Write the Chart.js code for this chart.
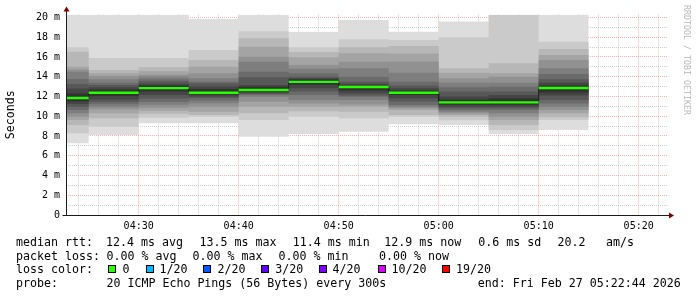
<!DOCTYPE html>
<html><head><meta charset="utf-8">
<script src="https://cdn.jsdelivr.net/npm/chart.js@4/dist/chart.umd.min.js"></script>
<style>
html,body{margin:0;padding:0;background:#fff;}
#wrap{position:relative;width:697px;height:297px;overflow:hidden;background:#fff;font-family:"DejaVu Sans Mono",monospace;}
#c{position:absolute;left:0;top:0;}
.t{position:absolute;white-space:pre;font-size:11.63px;line-height:14px;color:#000;}
.box{position:absolute;width:6px;height:6px;border:1px solid #000;}
#wm{position:absolute;left:692px;top:5px;transform-origin:0 0;transform:rotate(90deg);font-size:8.3px;line-height:10px;color:#b8b8b8;white-space:pre;}
</style></head><body>
<div id="wrap">
<canvas id="c" width="697" height="297"></canvas>
<div id="legend"></div>
<div id="wm">RRDTOOL / TOBI OETIKER</div>
</div>
<script>
// ---- data ----
const graphStart = '04:22:44';
const graphEnd = '05:22:44';
const stepBounds = ['04:22:44','04:25','04:30','04:35','04:40','04:45','04:50','04:55','05:00','05:05','05:10','05:15'];
const medianRtt = [11.85, 12.38, 12.85, 12.38, 12.66, 13.48, 12.96, 12.38, 11.40, 11.40, 12.86];
// 20 sorted ping rtts (ms) per 5-minute step
const pingsByStep = [
  [7.26, 8.27, 9.11, 9.62, 9.96, 10.30, 10.63, 10.97, 11.24, 11.50, 12.30, 12.80, 13.27, 13.77, 14.51, 14.74, 15.02, 16.54, 16.98, 20.30],
  [8.10, 8.94, 9.79, 10.30, 10.70, 10.95, 11.21, 11.45, 11.70, 12.05, 12.70, 12.93, 13.15, 13.40, 13.75, 14.08, 14.35, 14.68, 15.90, 20.30],
  [9.30, 9.85, 10.25, 10.55, 10.85, 11.15, 11.45, 11.80, 12.15, 12.50, 13.10, 13.30, 13.55, 13.75, 14.00, 14.20, 14.55, 14.95, 15.90, 20.30],
  [9.28, 9.96, 10.13, 10.46, 10.97, 11.31, 11.60, 11.85, 12.00, 12.20, 12.75, 13.00, 13.35, 13.50, 13.84, 14.35, 15.00, 15.70, 16.71, 19.85],
  [7.93, 9.62, 10.30, 10.97, 11.47, 11.98, 12.15, 12.25, 12.35, 12.45, 12.99, 13.16, 13.94, 14.51, 15.52, 16.03, 17.04, 17.90, 18.60, 20.30],
  [8.20, 9.95, 10.50, 10.97, 11.30, 11.65, 12.15, 12.50, 12.83, 13.20, 13.75, 13.84, 14.00, 14.35, 14.80, 15.19, 15.98, 16.50, 16.99, 18.53],
  [8.43, 9.79, 10.46, 10.97, 11.20, 11.65, 11.98, 12.10, 12.32, 12.60, 13.06, 13.30, 13.50, 14.00, 14.85, 15.52, 16.37, 16.98, 17.80, 19.75],
  [9.20, 9.95, 10.13, 10.63, 10.80, 10.97, 11.14, 11.50, 11.82, 12.15, 12.60, 12.83, 13.10, 13.50, 14.41, 15.53, 16.36, 17.11, 17.72, 18.56],
  [9.11, 9.60, 9.96, 10.13, 10.30, 10.46, 10.63, 10.80, 10.97, 11.15, 11.70, 12.00, 12.50, 12.93, 13.40, 13.84, 14.40, 14.86, 18.00, 19.58],
  [8.20, 8.60, 9.11, 9.62, 9.96, 10.30, 10.63, 10.80, 10.97, 11.15, 11.82, 12.15, 12.50, 12.99, 13.40, 14.00, 14.35, 15.36, 20.25, 20.30],
  [8.61, 9.62, 9.90, 10.30, 10.63, 10.97, 11.30, 11.65, 12.10, 12.40, 13.10, 13.40, 13.74, 14.28, 14.86, 15.70, 16.20, 16.80, 17.55, 20.30]
];
const xTickLabels = ['04:30','04:40','04:50','05:00','05:10','05:20'];
const yTickLabels = ['0','2 m','4 m','6 m','8 m','10 m','12 m','14 m','16 m','18 m','20 m'];
const yLimit = 20.3;
const lossLabels = ['0','1/20','2/20','3/20','4/20','10/20','19/20'];
const lossColors = ['#26ff00','#00b8ff','#0059ff','#5e00ff','#7e00ff','#dd00ff','#ff0000'];

// ---- helpers ----
function toMin(s){const p=s.split(':').map(Number);return p[0]*60+p[1]+(p[2]||0)/60;}
function fmt(v){const h=Math.floor(v/60), m=Math.round(v-h*60);return String(h).padStart(2,'0')+':'+String(m).padStart(2,'0');}
const xs = stepBounds.map(toMin);
// explicit step shape: each value held from its step start to the next boundary
function stepSeries(vals){
  const pts = [];
  vals.forEach((v,i)=>{pts.push({x:xs[i],y:v},{x:xs[i+1],y:v});});
  return pts;
}

// ---- legend (html text) ----
const lg = document.getElementById('legend');
function addText(left, top, txt){const d=document.createElement('div');d.className='t';d.style.left=left+'px';d.style.top=top+'px';d.textContent=txt;lg.appendChild(d);}
const L1=234.8, L2=248.5, L3=262.3, L4=276.2;
[[16,'median rtt:'],[106,'12.4 ms avg'],[199.5,'13.5 ms max'],[292.8,'11.4 ms min'],[384.2,'12.9 ms now'],[478.3,'0.6 ms sd'],[557.4,'20.2'],[606,'am/s']].forEach(a=>addText(a[0],L1,a[1]));
[[16,'packet loss:'],[106.4,'0.00 % avg'],[192.4,'0.00 % max'],[278.4,'0.00 % min'],[379,'0.00 % now']].forEach(a=>addText(a[0],L2,a[1]));
addText(16,L3,'loss color:');
const boxX=[108.3,145.7,203,261,319,377.7,442.3], labX=[122.4,159.4,217.4,275.2,332.6,391.4,455.9];
lossLabels.forEach((t,i)=>{const b=document.createElement('div');b.className='box';b.style.left=boxX[i]+'px';b.style.top='265px';b.style.background=lossColors[i];lg.appendChild(b);addText(labX[i],L3,t);});
[[16,'probe:'],[106.4,'20 ICMP Echo Pings (56 Bytes) every 300s'],[477.8,'end: Fri Feb 27 05:22:44 2026']].forEach(a=>addText(a[0],L4,a[1]));

// ---- datasets ----
const datasets = [];
const greenPts = [];
medianRtt.forEach((v,i)=>{greenPts.push({x:xs[i],y:v},{x:xs[i+1],y:v}); if(i<medianRtt.length-1) greenPts.push({x:xs[i+1],y:null});});
datasets.push({data:greenPts, borderColor:'#26ff00', backgroundColor:'#26ff00', borderWidth:2.4, fill:false, spanGaps:false, order:0, pointRadius:0});
datasets.push({data:stepSeries(medianRtt), borderColor:'#202020', backgroundColor:'#202020', borderWidth:1, fill:false, order:1, pointRadius:0});
for(let k=1;k<=10;k++){
  const g = 19*(10-k)+50;
  const col = 'rgb('+g+','+g+','+g+')';
  const lowIdx = datasets.length;
  datasets.push({data:stepSeries(pingsByStep.map(p=>p[k-1])), borderWidth:0, borderColor:'rgba(0,0,0,0)', backgroundColor:'rgba(0,0,0,0)', fill:false, order:100-2*k, pointRadius:0});
  datasets.push({data:stepSeries(pingsByStep.map(p=>p[20-k])), borderWidth:0, borderColor:'rgba(0,0,0,0)', backgroundColor:col, fill:{target:lowIdx}, order:100-2*k, pointRadius:0});
}

const RED='rgba(240,110,110,0.55)', GRAY='rgba(185,185,185,0.7)';
const axisArrows = {
  id:'axisArrows',
  afterDraw(chart){
    const {ctx, chartArea:a} = chart;
    const y0 = Math.round(chart.scales.y.getPixelForValue(0))+0.5;
    const x0 = Math.round(a.left)+0.5;
    ctx.save();
    ctx.strokeStyle='#1c1c1c'; ctx.lineWidth=1;
    ctx.beginPath();
    ctx.moveTo(x0-4,y0); ctx.lineTo(a.right+1,y0);
    ctx.moveTo(x0,y0); ctx.lineTo(x0,a.top-4);
    ctx.stroke();
    ctx.fillStyle='#7f0000';
    ctx.beginPath(); ctx.moveTo(a.right+1,y0-3); ctx.lineTo(a.right+6,y0); ctx.lineTo(a.right+1,y0+3); ctx.closePath(); ctx.fill();
    ctx.beginPath(); ctx.moveTo(x0-3,a.top-3); ctx.lineTo(x0,a.top-8); ctx.lineTo(x0+3,a.top-3); ctx.closePath(); ctx.fill();
    ctx.restore();
  }
};

new Chart(document.getElementById('c'), {
  type:'line',
  data:{datasets},
  options:{
    responsive:false, animation:false, devicePixelRatio:1,
    layout:{padding:{left:0,right:29,top:14.5,bottom:0}},
    plugins:{legend:{display:false}, tooltip:{enabled:false}, colors:{enabled:false}},
    elements:{point:{radius:0}, line:{tension:0}},
    scales:{
      x:{type:'linear', min:toMin(graphStart), max:toMin(graphEnd)+0.2, z:1,
        afterFit(s){s.height=82;},
        grid:{color:c=>(Math.round(c.tick.value)%10===0?RED:GRAY), lineWidth:1, drawTicks:false},
        border:{display:false, dash:[1,1]},
        ticks:{stepSize:2, includeBounds:false, autoSkip:false, maxRotation:0, padding:5, color:'#000',
          font:{family:'DejaVu Sans Mono', size:10},
          callback:v=>{const s=fmt(v);return xTickLabels.includes(s)?s:'';}}
      },
      y:{min:0, max:yLimit, z:1,
        afterFit(s){s.width=66;},
        grid:{color:c=>(c.tick.value%2===0?RED:GRAY), lineWidth:1, drawTicks:false},
        border:{display:false, dash:[1,1]},
        ticks:{stepSize:1, includeBounds:false, autoSkip:false, padding:6, color:'#000',
          font:{family:'DejaVu Sans Mono', size:10},
          callback:v=>(v%2===0?yTickLabels[v/2]:'')},
        title:{display:true, text:'Seconds', color:'#000', font:{family:'DejaVu Sans Mono', size:11.6}, padding:{top:4,bottom:0}}
      }
    }
  },
  plugins:[axisArrows]
});
</script>
</body></html>
